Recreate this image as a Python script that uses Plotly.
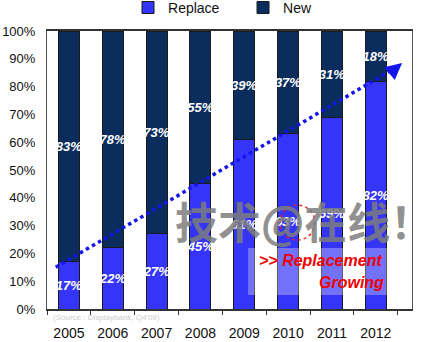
import plotly.graph_objects as go

years = ["2005", "2006", "2007", "2008", "2009", "2010", "2011", "2012"]
replace = [17, 22, 27, 45, 61, 63, 69, 82]
new = [83, 78, 73, 55, 39, 37, 31, 18]
y_ticks = [0, 10, 20, 30, 40, 50, 60, 70, 80, 90, 100]

REPLACE_C = "#3535FA"
NEW_C = "#0B2D5E"

fig = go.Figure()
lbl_font = dict(family="Arial", size=13, color="white")
fig.add_trace(go.Bar(
    x=years, y=replace, name="Replace", marker=dict(color=REPLACE_C, line=dict(color="#1a1a1a", width=1)),
    text=[f"<b><i>{v}%</i></b>" for v in replace], textposition="inside", insidetextanchor="middle",
    textfont=lbl_font, constraintext="none", textangle=0,
))
fig.add_trace(go.Bar(
    x=years, y=new, name="New", marker=dict(color=NEW_C, line=dict(color="#1a1a1a", width=1)),
    text=[f"<b><i>{v}%</i></b>" for v in new], textposition="inside", insidetextanchor="middle",
    textfont=lbl_font, constraintext="none", textangle=0,
))

# trend line
fig.add_shape(type="line", xref="x", yref="y", x0=-0.3, y0=15, x1=7.42, y1=86.5,
              line=dict(color="#1414F0", width=3.5, dash="dot"))
fig.add_annotation(x=7.6, y=88.5, ax=7.35, ay=85.2, xref="x", yref="y", axref="x", ayref="y",
                   text="", showarrow=True, arrowhead=2, arrowsize=1.1, arrowwidth=3, arrowcolor="#1414F0")

# watermark
fig.add_annotation(x=0.345, y=0.32, xref="paper", yref="paper", xanchor="left", yanchor="middle",
                   text="<b>技术@在线！</b>", showarrow=False,
                   font=dict(family="Noto Sans CJK SC", size=43, color="rgba(125,125,125,0.85)"))
fig.add_shape(type="circle", xref="paper", yref="paper", x0=0.638, x1=0.734, y0=0.248, y1=0.374,
              line=dict(color="rgba(230,30,30,0.9)", width=1.5, dash="dot"))

# callout box
fig.add_shape(type="rect", xref="paper", yref="paper", x0=0.551, x1=0.945, y0=0.05, y1=0.219,
              fillcolor="rgba(255,255,255,0.3)", line=dict(width=0))
fig.add_annotation(x=0.575, y=0.175, xref="paper", yref="paper", xanchor="left", yanchor="middle",
                   text="<b><i>&gt;&gt; Replacement</i></b>", showarrow=False,
                   font=dict(family="Arial", size=16, color="#F00000"))
fig.add_annotation(x=0.74, y=0.095, xref="paper", yref="paper", xanchor="left", yanchor="middle",
                   text="<b><i>Growing</i></b>", showarrow=False,
                   font=dict(family="Arial", size=16, color="#F00000"))

# source
fig.add_annotation(x=0.01, y=-0.008, xref="paper", yref="paper", xanchor="left", yanchor="top",
                   text="(Source : Displaybank, Q4'09)", showarrow=False,
                   font=dict(family="Arial", size=8, color="#CDCDCD"))

fig.update_layout(
    width=430, height=342, barmode="stack", bargap=0.52,
    margin=dict(l=47, r=18, t=31, b=33, autoexpand=False),
    paper_bgcolor="white", plot_bgcolor="white",
    font=dict(family="Arial", color="#111"),
    legend=dict(orientation="h", x=0.222, xanchor="left",
                y=1.083, yanchor="middle",
                font=dict(size=14, color="#111"), itemwidth=30, traceorder="normal",
                entrywidth=70, entrywidthmode="pixels", bgcolor="rgba(0,0,0,0)"),
    showlegend=True,
)
fig.update_xaxes(type="category", showline=True, linecolor="#333", linewidth=1.5, mirror=True,
                 ticks="outside", tickson="boundaries", ticklen=4, tickcolor="#333",
                 ticklabelstandoff=10,
                 tickfont=dict(size=14, color="#111"), showgrid=False)
fig.update_yaxes(range=[0, 100], tickvals=y_ticks, ticktext=[f"{v}%" for v in y_ticks],
                 showline=True, linecolor="#555", linewidth=1, mirror=True, ticklabelstandoff=8,
                 showgrid=False, ticks="", tickfont=dict(size=13, color="#111"), zeroline=False)

fig.write_html("out.html")
